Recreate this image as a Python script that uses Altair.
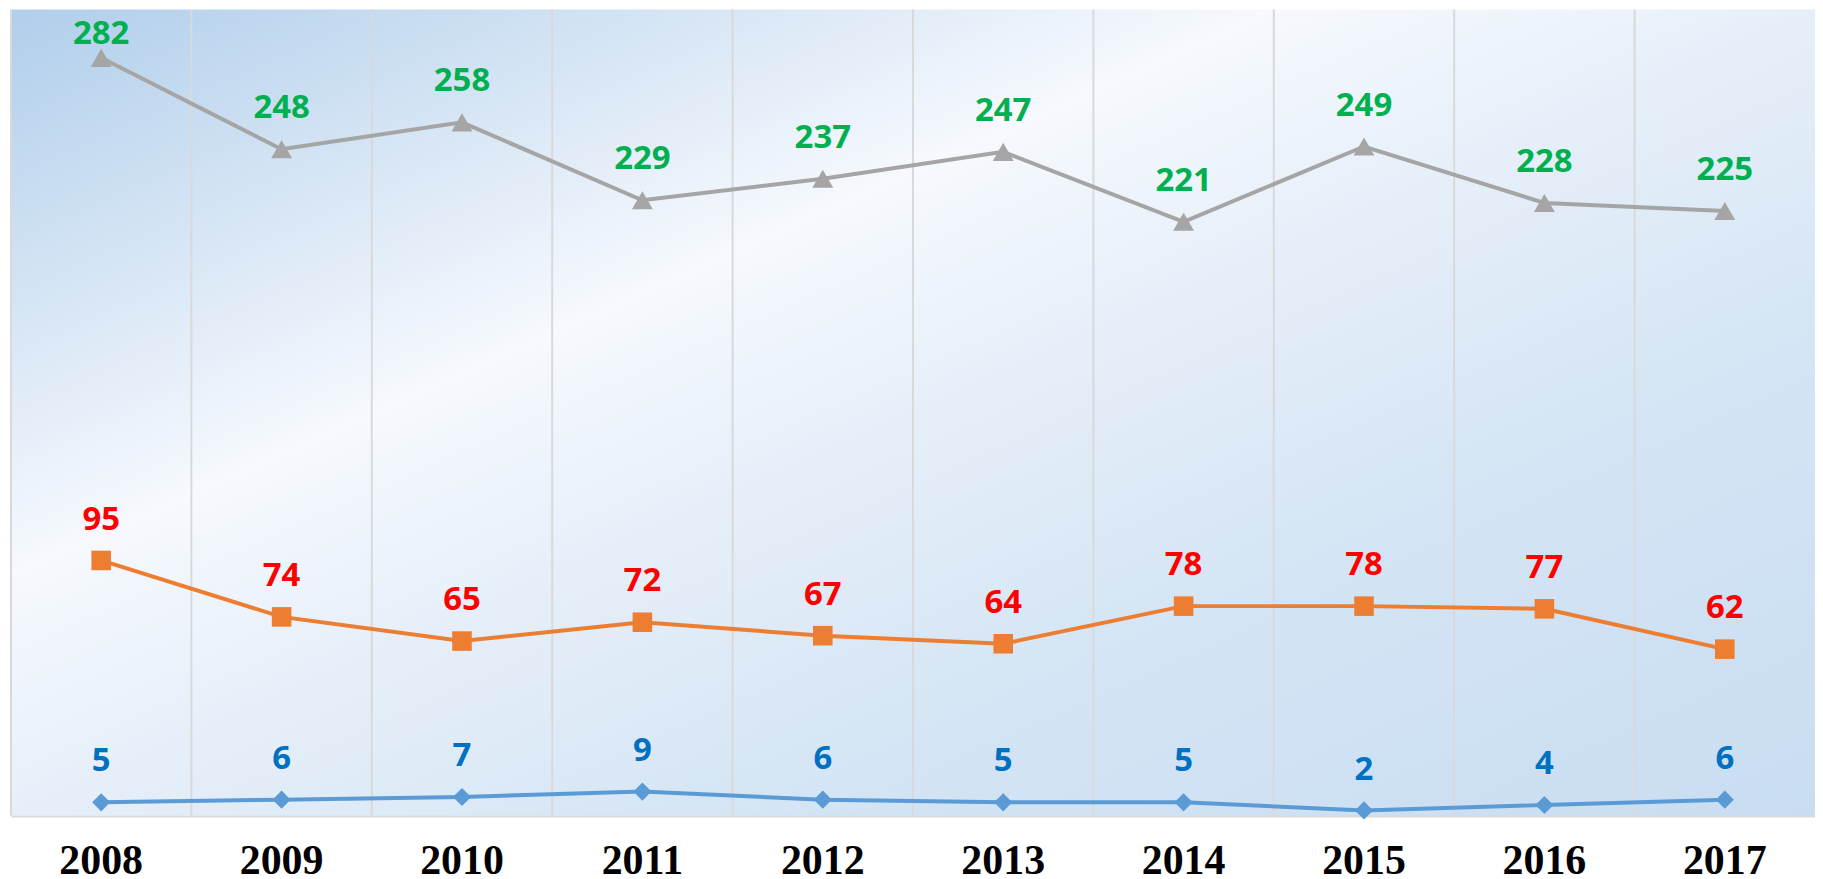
import altair as alt
import pandas as pd

years = ["2008", "2009", "2010", "2011", "2012", "2013", "2014", "2015", "2016", "2017"]
series_top = [282, 248, 258, 229, 237, 247, 221, 249, 228, 225]
series_mid = [95, 74, 65, 72, 67, 64, 78, 78, 77, 62]
series_low = [5, 6, 7, 9, 6, 5, 5, 2, 4, 6]

series_names = ["Series 3", "Series 2", "Series 1"]
line_colors = ["#a5a5a5", "#ed7d31", "#5b9bd5"]
label_colors = ["#00b050", "#ff0000", "#0070c0"]
shapes = ["triangle-up", "square", "diamond"]
marker_sizes = [440, 330, 340]

rows = []
for name, vals in zip(series_names, [series_top, series_mid, series_low]):
    for yr, v in zip(years, vals):
        rows.append({"year": yr, "series": name, "value": v})
df = pd.DataFrame(rows)
grid_df = pd.DataFrame({"year": years})

W, H = 1810, 809

x_scale = alt.Scale(domain=years, paddingInner=0, paddingOuter=0)
x_axis = alt.Axis(
    title=None, labelAngle=0, ticks=False, grid=False,
    domainColor="#d9d9d9", domainWidth=2.5,
    labelFont="Liberation Serif", labelFontWeight="bold", labelFontSize=42,
    labelColor="#000000", labelPadding=25, labelBaseline="top",
)
x_enc = alt.X("year:O", sort=years, scale=x_scale, axis=x_axis)
y_scale = alt.Scale(domain=[0, 300], nice=False, zero=True)
y_enc = alt.Y("value:Q", scale=y_scale, axis=None)

grad = alt.LinearGradient(
    gradient="linear",
    x1=0, y1=0, x2=1, y2=1,
    stops=[
        alt.GradientStop(color="#b0ceeb", offset=0),
        alt.GradientStop(color="#f6f9fd", offset=0.35),
        alt.GradientStop(color="#e6eff9", offset=0.5),
        alt.GradientStop(color="#d3e4f4", offset=0.72),
        alt.GradientStop(color="#c9ddf2", offset=1),
    ],
)

bg = alt.Chart(alt.Data(values=[{"k": 1}])).mark_rect(fill=grad, stroke=None).encode(
    x=alt.value(0), x2=alt.value(W), y=alt.value(0), y2=alt.value(H)
)

grid = alt.Chart(grid_df).mark_rule(color="#d9d9d9", strokeWidth=2).encode(
    x=alt.X("year:O", sort=years, scale=x_scale, bandPosition=0, axis=x_axis),
    y=alt.value(0), y2=alt.value(H),
)

base = alt.Chart(df)

lines = base.mark_line(strokeWidth=4).encode(
    x=x_enc, y=y_enc,
    color=alt.Color("series:N", scale=alt.Scale(domain=series_names, range=line_colors), legend=None),
    detail="series:N",
)

points = base.mark_point(filled=True, opacity=1).encode(
    x=x_enc, y=y_enc,
    color=alt.Color("series:N", scale=alt.Scale(domain=series_names, range=line_colors), legend=None),
    shape=alt.Shape("series:N", scale=alt.Scale(domain=series_names, range=shapes), legend=None),
    size=alt.Size("series:N", scale=alt.Scale(domain=series_names, range=marker_sizes), legend=None),
)

labels = base.transform_calculate(
    lab="min(datum.value + 15.2, 291)"
).mark_text(font="Open Sans", fontWeight="bold", fontSize=33, baseline="middle", align="center").encode(
    x=x_enc,
    y=alt.Y("lab:Q", scale=y_scale, axis=None),
    text=alt.Text("value:Q"),
    color=alt.Color("series:N", scale=alt.Scale(domain=series_names, range=label_colors), legend=None),
)

chart = alt.layer(bg, grid, lines, points, labels).resolve_scale(
    color="independent"
).properties(
    width=W, height=H,
    padding={"left": 3, "top": 0, "right": 0, "bottom": 68},
    autosize=alt.AutoSizeParams(type="none"),
    background="#ffffff",
).configure_view(stroke=None)

chart.save("out.html", embed_options={"renderer": "svg", "actions": False})
